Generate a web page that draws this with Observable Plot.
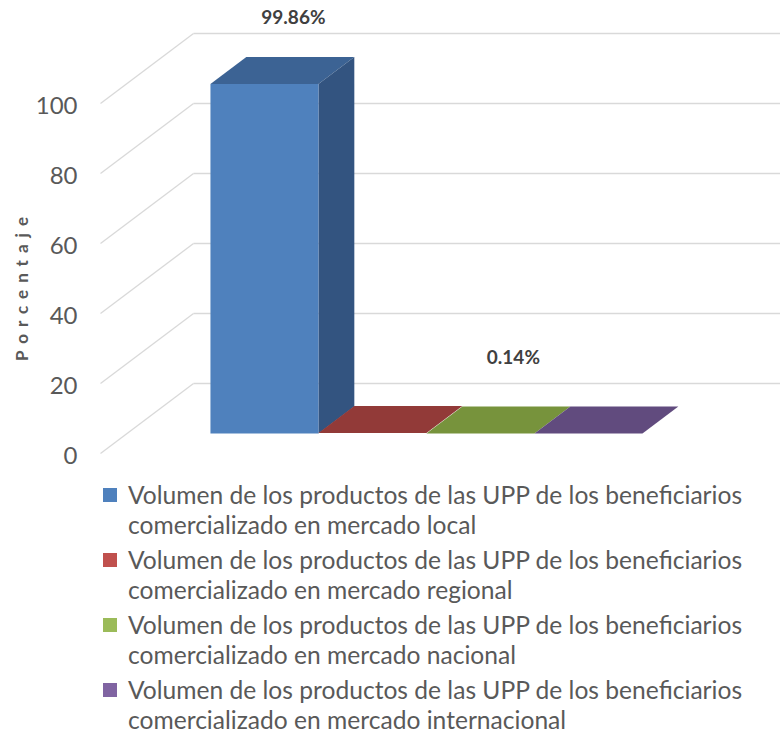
<!DOCTYPE html>
<html>
<head>
<meta charset="utf-8">
<script src="https://cdn.jsdelivr.net/npm/d3@7"></script>
<script src="https://cdn.jsdelivr.net/npm/@observablehq/plot@0.6"></script>
<style>
  html, body { margin: 0; padding: 0; background: #ffffff; }
  #chart { width: 780px; position: relative; }
  .legend { padding: 10px 0 0 0; font-family: Lato, sans-serif; color: #595959; }
  .item { position: relative; padding-left: 128px; margin-bottom: 5px; line-height: 30px; font-size: 24.6px; white-space: pre-line; }
  .swatch { position: absolute; left: 103px; top: 8px; width: 14px; height: 14px; }
</style>
</head>
<body>
<div id="chart"></div>
<script>
// ---- data ----
const seriesNames = [
  "Volumen de los productos de las UPP de los beneficiarios comercializado en mercado local",
  "Volumen de los productos de las UPP de los beneficiarios comercializado en mercado regional",
  "Volumen de los productos de las UPP de los beneficiarios comercializado en mercado nacional",
  "Volumen de los productos de las UPP de los beneficiarios comercializado en mercado internacional"
];
const seriesValues = [99.86, 0.14, 0, 0];
const frontColors = ["#4f81bd", "#c0504d", "#9bbb59", "#8064a2"];
const topColors   = ["#3c6394", "#923a38", "#77933c", "#614b7e"];
const sideColors  = ["#335480", "#7d3230", "#627a33", "#51406a"];
const yTicks = [0, 20, 40, 60, 80, 100];
const labelSeries = [0, 1];
const labelTexts = ["99.86%", "0.14%"];
const yTitle = "Porcentaje";

// ---- 3D projection helpers (depth d in 0..1 of the floor) ----
const DX = 0.8611;   // horizontal shift (in bar-width units) for full depth
const DY = 20;       // vertical shift (in value units) for full depth
const D0 = 0.2857, D1 = 0.6714; // bar front / back depth
const uLeft = -0.772, uRight = 5.524;
const proj = (u, v, d) => ({x: u + d * DX, y: v + d * DY});

// faces
const faces = [];
seriesValues.forEach((v, i) => {
  const u0 = i, u1 = i + 1;
  const push = (id, fill, pts) => pts.forEach(p => faces.push({id, fill, ...p}));
  push(`top${i}`, topColors[i], [proj(u0, v, D0), proj(u1, v, D0), proj(u1, v, D1), proj(u0, v, D1)]);
  if (v > 0.5) {
    push(`side${i}`, sideColors[i], [proj(u1, 0, D0), proj(u1, 0, D1), proj(u1, v, D1), proj(u1, v, D0)]);
    push(`front${i}`, frontColors[i], [proj(u0, 0, D0), proj(u1, 0, D0), proj(u1, v, D0), proj(u0, v, D0)]);
  }
});

// gridlines: diagonal side-wall lines and back-wall lines
const diag = yTicks.map(t => ({a: proj(uLeft, t, 0), b: proj(uLeft, t, 1)}));
const back = yTicks.map(t => ({a: proj(uLeft, t, 1), b: {x: uRight, y: t + DY}}));

const labelRows = labelSeries.map((s, k) => ({...proj(s + 0.5, seriesValues[s], (D0 + D1) / 2), text: labelTexts[k]}));

const gridColor = "#d9d9d9";
const plot = Plot.plot({
  width: 780,
  height: 470,
  marginLeft: 100,
  marginRight: 0,
  marginTop: 103,
  marginBottom: 17,
  x: {domain: [uLeft, uRight], axis: null},
  y: {domain: [0, 100]},
  color: {type: "identity"},
  style: {fontFamily: "Lato, sans-serif", background: "#ffffff", overflow: "visible"},
  marks: [
    Plot.link(diag, {x1: d => d.a.x, y1: d => d.a.y, x2: d => d.b.x, y2: d => d.b.y, stroke: gridColor, strokeWidth: 1.3}),
    Plot.link(back, {x1: d => d.a.x, y1: d => d.a.y, x2: d => d.b.x, y2: d => d.b.y, stroke: gridColor, strokeWidth: 1.3}),
    Plot.line(faces, {x: "x", y: "y", z: "id", fill: "fill", stroke: null, curve: "linear-closed"}),
    Plot.axisY({ticks: yTicks, tickSize: 0, tickPadding: 23, dy: 3, fontSize: 24, label: null, fill: "#595959"}),
    Plot.text([labelRows[0]], {x: "x", y: "y", text: "text", dx: 11, dy: -53, fontSize: 19, fontWeight: "bold", fill: "#404040"}),
    Plot.text([labelRows[1]], {x: "x", y: "y", text: "text", dx: 123, dy: -62, fontSize: 19, fontWeight: "bold", fill: "#404040"}),
    Plot.text([yTitle], {frameAnchor: "left", textAnchor: "middle", dx: -78, dy: 7, rotate: -90, fontSize: 17, fontWeight: "bold", fill: "#595959"})
  ]
});
d3.select(plot).selectAll("text").filter(function() { return this.textContent === yTitle; })
  .style("font-size", "17px").style("letter-spacing", "7px");
document.getElementById("chart").appendChild(plot);

// legend
const legend = d3.select("#chart").append("div").attr("class", "legend");
seriesNames.forEach((name, i) => {
  const item = legend.append("div").attr("class", "item");
  item.append("span").attr("class", "swatch").style("background", frontColors[i]);
  item.append("span").text(name.replace(" comercializado", "\ncomercializado"));
});
</script>
</body>
</html>
